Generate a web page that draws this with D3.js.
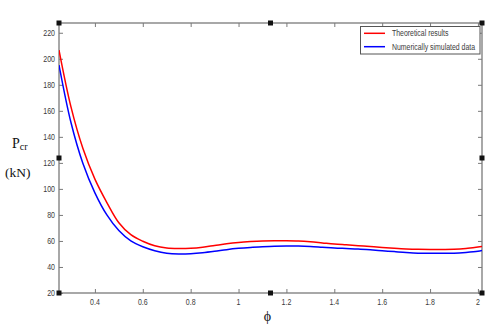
<!DOCTYPE html>
<html><head><meta charset="utf-8">
<script src="https://cdn.jsdelivr.net/npm/d3@7"></script>
<style>body{margin:0;background:#fff}svg{display:block}</style>
</head><body>
<svg id="c" width="495" height="330"></svg>
<script>
const phi = [0.25,0.30,0.35,0.40,0.45,0.50,0.55,0.60,0.65,0.70,0.75,0.80,0.85,0.90,0.95,1.00,1.05,1.10,1.15,1.20,1.25,1.30,1.35,1.40,1.45,1.50,1.55,1.60,1.65,1.70,1.75,1.80,1.85,1.90,1.95,2.00,2.02];
const theoretical = [206.7,163,131,107.5,89.5,74,64.8,59.8,56.3,54.6,54.2,54.4,55.2,56.5,57.8,58.8,59.5,60.0,60.2,60.2,60.0,59.4,58.5,57.6,57.0,56.4,55.7,55.0,54.4,53.9,53.6,53.5,53.5,53.6,54.2,55.3,55.8];
const simulated = [195.2,151,119.5,97,80,68,60,55.5,52.5,50.6,50.0,50.2,50.9,52.0,53.3,54.3,55.0,55.5,55.9,56.1,56.1,55.8,55.2,54.6,54.2,53.8,53.2,52.5,51.8,51.1,50.6,50.5,50.5,50.6,51.2,52.1,52.8];
const xTicks = [0.4,0.6,0.8,1,1.2,1.4,1.6,1.8,2];
const yTicks = [20,40,60,80,100,120,140,160,180,200,220];
const seriesNames = ["Theoretical results","Numerically simulated data"];
const seriesColors = ["#ff0000","#0000ff"];

const L=59, R=482, T=23, B=293;
const x = d3.scaleLinear().domain([0.25,2.017]).range([L,R]);
const y = d3.scaleLinear().domain([20,227.5]).range([B,T]);
const svg = d3.select("#c");
const axisCol="#7a7a7a", txtCol="#3a3a3a";
const tf = "'Liberation Sans',Arial,sans-serif";
const SX = 0.78;

svg.append("defs").append("clipPath").attr("id","clip").append("rect")
  .attr("x",L).attr("y",T).attr("width",R-L).attr("height",B-T);

// axes using d3 axes, ticks pointing inward
const g = svg.append("g");
g.append("g").attr("transform",`translate(0,${B})`)
  .call(d3.axisBottom(x).tickValues(xTicks).tickSize(-4).tickFormat(""));
g.append("g").attr("transform",`translate(0,${T})`)
  .call(d3.axisTop(x).tickValues(xTicks).tickSize(-4).tickFormat(""));
g.append("g").attr("transform",`translate(${L},0)`)
  .call(d3.axisLeft(y).tickValues(yTicks).tickSize(-4).tickFormat(""));
g.append("g").attr("transform",`translate(${R},0)`)
  .call(d3.axisRight(y).tickValues(yTicks).tickSize(-4).tickFormat(""));
g.selectAll(".domain").remove();
g.selectAll(".tick line").attr("stroke",axisCol).attr("stroke-width",1);
svg.append("rect").attr("x",L).attr("y",T).attr("width",R-L).attr("height",B-T)
  .attr("fill","none").attr("stroke",axisCol).attr("stroke-width",1.3);

// tick labels (horizontally condensed)
svg.append("g").selectAll("text").data(xTicks).join("text")
  .attr("transform",d=>`translate(${x(d)},${B+12}) scale(${SX},1)`).attr("text-anchor","middle")
  .attr("font-family",tf).attr("font-size",9).attr("fill",txtCol)
  .text(d=>d3.format("~g")(d));
svg.append("g").selectAll("text").data(yTicks).join("text")
  .attr("transform",d=>`translate(${L-4},${y(d)+3}) scale(${SX},1)`).attr("text-anchor","end")
  .attr("font-family",tf).attr("font-size",9).attr("fill",txtCol)
  .text(d=>d);

// lines
const line = d3.line().curve(d3.curveCatmullRom.alpha(0.5));
const series=[theoretical,simulated];
const lg = svg.append("g").attr("clip-path","url(#clip)");
series.forEach((s,i)=>{
  lg.append("path").attr("d",line(phi.map((p,j)=>[x(p),y(s[j])])))
    .attr("fill","none").attr("stroke",seriesColors[i]).attr("stroke-width",1.5);
});

// legend
const leg = svg.append("g");
leg.append("rect").attr("x",360.5).attr("y",26.5).attr("width",119.5).attr("height",27.5)
  .attr("fill","#fff").attr("stroke","#555").attr("stroke-width",1);
seriesNames.forEach((n,i)=>{
  const yy = 33.3 + i*13.4;
  leg.append("line").attr("x1",364).attr("x2",385).attr("y1",yy).attr("y2",yy)
    .attr("stroke",seriesColors[i]).attr("stroke-width",1.5);
  leg.append("text").attr("transform",`translate(392,${yy+3}) scale(0.77,1)`).attr("font-family",tf)
    .attr("font-size",9).attr("fill",txtCol).text(n);
});

// axis labels
const sf = "'Liberation Serif','Times New Roman',serif";
const pl = svg.append("text").attr("x",12).attr("y",147.5).attr("font-family",sf).attr("font-size",14).attr("fill","#111");
pl.append("tspan").text("P");
pl.append("tspan").attr("font-size",10).attr("dy",2).text("cr");
svg.append("text").attr("x",5).attr("y",177).attr("font-family",sf).attr("font-size",13.5).attr("fill","#111").text("(kN)");
svg.append("text").attr("x",(L+R)/2-3).attr("y",321).attr("text-anchor","middle").attr("font-family",sf).attr("font-size",14).attr("fill","#111").text("ϕ");

// selection handles
const hx=[L,(L+R)/2,R], hy=[T,(T+B)/2,B];
const handles=[];
hx.forEach(a=>hy.forEach(b=>{ if(!(a===(L+R)/2 && b===(T+B)/2)) handles.push([a,b]); }));
svg.append("g").selectAll("rect").data(handles).join("rect")
  .attr("x",d=>d[0]-2.5).attr("y",d=>d[1]-2.5).attr("width",5).attr("height",5).attr("fill","#111");
</script>
</body></html>
